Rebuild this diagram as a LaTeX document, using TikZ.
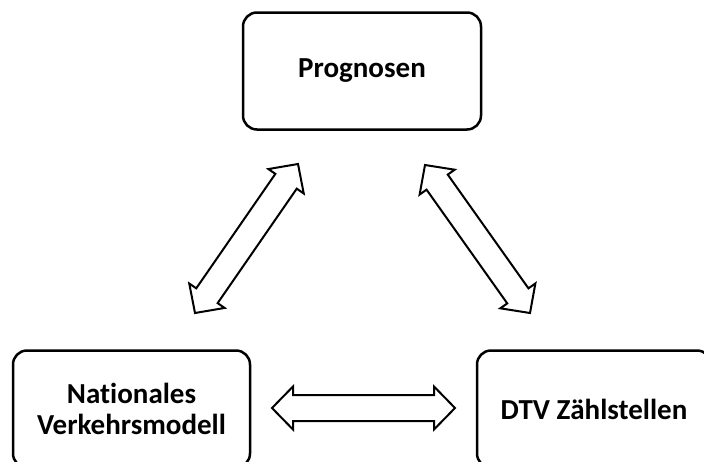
\documentclass[tikz,border=0pt]{standalone}
\usepackage{fontspec}
\setmainfont{Carlito}[Ligatures=NoCommon]
\usetikzlibrary{calc,positioning}

% double headed block arrow between two named points
\newcommand{\dblarrow}[2]{%
  \path coordinate (ha) at ($(#1)!21pt!(#2)$) coordinate (hb) at ($(#2)!21pt!(#1)$);
  \draw[blockarr] (#1)
    -- ($(ha)!21.5pt!90:(#2)$) -- ($(ha)!13pt!90:(#2)$)
    -- ($(hb)!13pt!-90:(#1)$) -- ($(hb)!21.5pt!-90:(#1)$)
    -- (#2)
    -- ($(hb)!21.5pt!90:(#1)$) -- ($(hb)!13pt!90:(#1)$)
    -- ($(ha)!13pt!-90:(#2)$) -- ($(ha)!21.5pt!-90:(#2)$)
    -- cycle;
}

\begin{document}
\begin{tikzpicture}[x=1pt, y=-1pt,
  box/.style={rectangle, draw, line width=2.5pt, fill=white, rounded corners=14pt,
    minimum height=117pt, align=center, font=\fontsize{29}{31}\selectfont\bfseries},
  blockarr/.style={draw, line width=2pt, fill=white, line join=miter}
]
  \useasboundingbox (0,0) rectangle (704,461);

  \node[box, minimum width=238pt] (prog) at (362,71) {Prognosen};
  \node[box, minimum width=237pt] (nvm) at (131.5,409) {Nationales\\Verkehrsmodell};
  \node[box, minimum width=234pt] (dtv) at (594,409) {DTV Zählstellen};

  \coordinate (a1) at (195,313);
  \coordinate (a2) at (298,164);
  \coordinate (b1) at (425,165);
  \coordinate (b2) at (530,313);
  \coordinate (c1) at (272,408);
  \coordinate (c2) at (455,408);

  \dblarrow{a1}{a2}
  \dblarrow{b1}{b2}
  \dblarrow{c1}{c2}
\end{tikzpicture}
\end{document}
